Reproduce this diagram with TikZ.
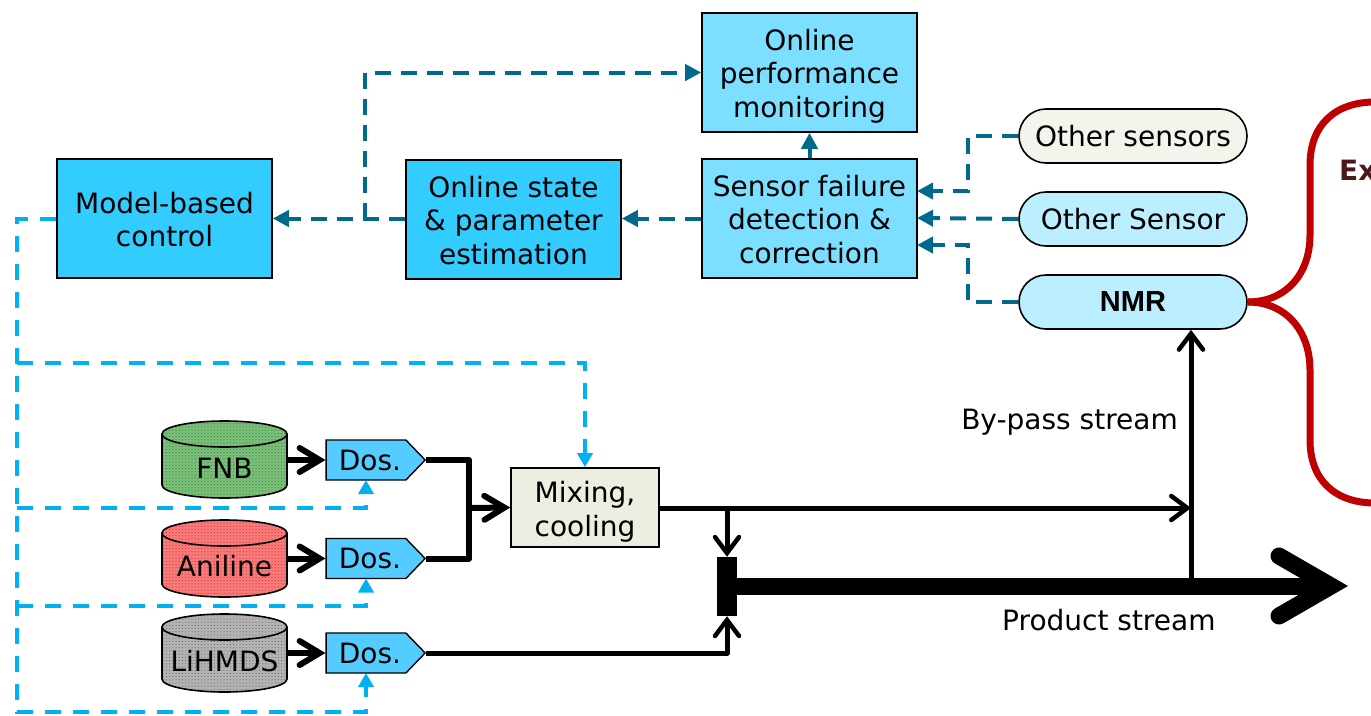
\documentclass[tikz,border=0pt]{standalone}
\usepackage{fontspec}
\setmainfont{DejaVu Sans}
\newfontfamily\arialb{Liberation Sans}
\usetikzlibrary{arrows.meta,shapes.symbols,patterns.meta,positioning}
\definecolor{midblue}{HTML}{7DDFFF}
\definecolor{deepblue}{HTML}{33CCFF}
\definecolor{dosblue}{HTML}{55CCFF}
\definecolor{paleblue}{HTML}{BBEEFF}
\definecolor{cream}{HTML}{F4F4EC}
\definecolor{mixcream}{HTML}{EEEDE2}
\definecolor{teal1}{HTML}{006A8C}
\definecolor{cyan1}{HTML}{00B0F0}
\definecolor{bracketred}{HTML}{C00000}
\definecolor{exbrown}{HTML}{4A1A1A}
\definecolor{fnbgreen}{HTML}{78C078}
\definecolor{anired}{HTML}{FF7878}
\definecolor{ligrey}{HTML}{B4B4B4}
\newcommand{\txt}{\fontsize{28}{33.7}\selectfont}
\newcommand{\dn}[1]{\rule{0pt}{\dimexpr21.3pt+#1pt\relax}}
\tikzset{
  x=1pt,y=-1pt,
  blockbox/.style={draw=black,line width=1.6pt,align=center,font=\txt,minimum width=215pt,minimum height=119pt,inner sep=0pt},
  sensorbox/.style={draw=black,line width=1.6pt,rounded corners=27pt,align=center,font=\txt,minimum width=228pt,minimum height=54pt,inner sep=0pt},
  dosbox/.style={shape=signal,signal to=east,signal pointer angle=92,draw=black,line width=1.4pt,fill=dosblue,minimum width=99pt,minimum height=40pt,inner sep=0pt},
  cylnode/.style={font=\txt,inner sep=0pt,minimum width=125pt,minimum height=77pt},
  tealdash/.style={draw=teal1,line width=4pt,dash pattern=on 16pt off 10pt},
  tealsolid/.style={draw=teal1,line width=4pt},
  tealtip/.style={-{Triangle[length=16pt,width=16pt]}},
  cyandash/.style={draw=cyan1,line width=4pt,dash pattern=on 16pt off 12pt},
  cyantip/.style={-{Triangle[length=14pt,width=15pt]}},
  flow/.style={draw=black,line width=5pt,line join=round},
  thickflow/.style={draw=black,line width=6pt,line join=round},
  barb/.style={-{Straight Barb[line cap=round,line join=miter,length=16pt,width=24pt,line width=4.5pt]}},
  barbb/.style={-{Straight Barb[line cap=round,line join=miter,length=20pt,width=24pt,line width=6pt]}},
  mainflow/.style={draw=black,line width=17pt,-{Straight Barb[line cap=round,line join=miter,length=52pt,width=60pt,line width=17pt]}},
  label/.style={font=\txt,inner sep=0pt},
}
\newcommand{\cyl}[5]{% name, cx, top, bottom, colour
  \fill[#5] (#2-62.5,#3+13) arc[x radius=62.5,y radius=-13,start angle=180,end angle=0] -- (#2+62.5,#4-13) arc[x radius=62.5,y radius=13,start angle=0,end angle=180] -- cycle;
  \path[pattern={Dots[distance=3.2pt,radius=.6pt]},pattern color=black!40!#5] (#2-62.5,#3+13) arc[x radius=62.5,y radius=-13,start angle=180,end angle=0] -- (#2+62.5,#4-13) arc[x radius=62.5,y radius=13,start angle=0,end angle=180] -- cycle;
  \draw[line width=1.6pt] (#2-62.5,#3+13) arc[x radius=62.5,y radius=-13,start angle=180,end angle=0] -- (#2+62.5,#4-13) arc[x radius=62.5,y radius=13,start angle=0,end angle=180] -- cycle;
  \draw[line width=1.6pt] (#2-62.5,#3+13) arc[x radius=62.5,y radius=-13,start angle=180,end angle=360];
  \node[cylnode] (#1) at (#2,#3/2+#4/2) {};
}
\begin{document}
\begin{tikzpicture}
\useasboundingbox (0,0) rectangle (1371,715);
\clip (0,0) rectangle (1371,715);

% upper blocks
\node[blockbox,fill=midblue] (perf) at (809.5,72.5) {\dn{7}Online\\performance\\monitoring};
\node[blockbox,fill=midblue] (sfd) at (809.5,218.5) {\dn{2}Sensor failure\\detection \&\\correction};
\node[blockbox,fill=deepblue] (est) at (513.5,219.5) {\dn{2}Online state\\\& parameter\\estimation};
\node[blockbox,fill=deepblue] (mbc) at (164.5,218.5) {\dn{2}Model-based\\control};

% sensors
\node[sensorbox,fill=cream] (os1) at (1133,136) {Other sensors};
\node[sensorbox,fill=paleblue] (os2) at (1133,219) {Other Sensor};
\node[sensorbox,fill=paleblue,font=\fontsize{29}{33}\selectfont\arialb\bfseries] (nmr) at (1133,302) {NMR};

% feed vessels
\cyl{fnb}{224.5}{421}{498}{fnbgreen}
\cyl{ani}{224.5}{520}{597}{anired}
\cyl{lih}{224.5}{614}{692}{ligrey}
\node[label] (fnbt) at (224.5,468) {FNB};
\node[label] (anit) at (224.5,566) {Aniline};
\node[label] (liht) at (224.5,661) {LiHMDS};

% dosing units
\node[dosbox] (d1) at (366,460) {};
\node[dosbox] (d2) at (366,558.5) {};
\node[dosbox] (d3) at (366,653) {};
\node[label] (d1t) at (370,460) {Dos.};
\node[label] (d2t) at (370,558.5) {Dos.};
\node[label] (d3t) at (370,653) {Dos.};

\node[draw=black,line width=1.6pt,fill=mixcream,align=center,font=\txt,minimum width=148pt,minimum height=79pt,inner sep=0pt] (mix) at (585,507.5) {\dn{8}Mixing,\\cooling};

% junction bar
\node[fill=black,minimum width=20pt,minimum height=59pt,inner sep=0pt] (bar) at (727,586.5) {};
\coordinate (tip) at (1348,586);
\coordinate (merge) at (469,508);
\coordinate (bypass) at (1191,508);
\coordinate (busin) at (727,508);
\coordinate (busout) at (1191,578);

% main flows
\draw[mainflow] (bar.east |- tip) -- (tip);
\draw[thickflow,barbb] (fnb.east |- d1.west) -- (d1.west);
\draw[thickflow,barbb] (ani.east |- d2.west) -- (d2.west);
\draw[thickflow,barbb] (lih.east |- d3.west) -- (d3.west);
\draw[thickflow] (d1.east) -| (merge) |- (d2.east);
\draw[thickflow,barbb] (merge) -- (mix.west);
\draw[flow,barb] (mix.east |- bypass) -- (bypass);
\draw[flow,barb] (busin) -- (bar.north);
\draw[flow,barb] (d3.east) -| (bar.south);
\draw[flow,barb] (busout) -- (busout |- nmr.south);

% sensor signals
\draw[tealsolid,tealtip] (sfd.north) -- (perf.south);
\draw[tealdash,tealtip] (sfd.west) -- (est.east |- sfd.west);
\draw[tealdash,tealtip] (est.west |- mbc.east) -- (mbc.east);
\coordinate (split) at (365,218.5);
\draw[tealdash,tealtip] (split) |- (perf.west);
\coordinate (c1) at (917,191);
\coordinate (c2) at (917,218);
\coordinate (c3) at (917,245);
\coordinate (v) at (968,136);
\draw[tealdash,tealtip] (os1.west) -- (v) |- (c1);
\draw[tealdash,tealtip] (os2.west) -- (c2);
\draw[tealdash,tealtip] (nmr.west) -- (v |- nmr.west) |- (c3);

% control signals
\coordinate (ctl) at (17,219);
\coordinate (ctlend) at (17,712);
\coordinate (l1) at (17,363);
\coordinate (l2) at (17,508);
\coordinate (l3) at (17,606);
\coordinate (a1) at (366,480);
\coordinate (a2) at (366,578.5);
\coordinate (a3) at (366,673);
\draw[cyandash,cyantip] (mbc.west |- ctl) -- (ctl) -- (ctlend) -| (a3);
\draw[cyandash,cyantip] (l1) -| (mix.north);
\draw[cyandash,cyantip] (l2) -| (a1);
\draw[cyandash,cyantip] (l3) -| (a2);

% labels
\node[label,anchor=east] (bps) at (1178,422) {By-pass stream};
\node[label,anchor=west] (prs) at (1002,620) {Product stream};

% bracket
\draw[bracketred,line width=7pt] (nmr.east) .. controls (1285,302) and (1310,275) .. (1310,235) -- (1310,165) .. controls (1310,125) and (1335,102) .. (1375,102);
\draw[bracketred,line width=7pt] (nmr.east) .. controls (1285,302) and (1310,330) .. (1310,370) -- (1310,440) .. controls (1310,480) and (1335,503) .. (1375,503);
\node[label,anchor=west,text=exbrown,font=\txt\bfseries] (ex) at (1339,170) {Ex};
\end{tikzpicture}
\end{document}
